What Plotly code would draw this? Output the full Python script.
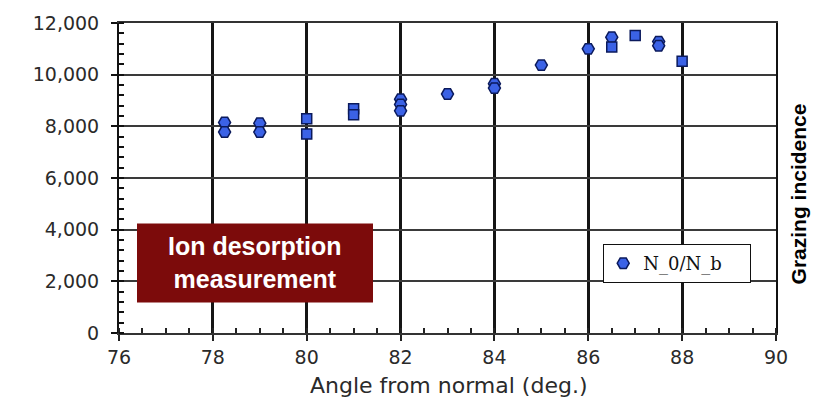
import plotly.graph_objects as go

# Ion desorption ratio N_0/N_b versus angle from normal
angle_round = [78.25, 78.25, 79, 79, 82, 82, 82, 83, 84, 84, 85, 86, 86.5, 87.5, 87.5]
ratio_round = [8150, 7780, 8120, 7780, 9050, 8850, 8600, 9250, 9650, 9480, 10370, 11000, 11450, 11280, 11120]

angle_square = [80, 80, 81, 81, 86.5, 87, 88]
ratio_square = [8290, 7700, 8680, 8450, 11070, 11520, 10520]

x_ticks = [76, 78, 80, 82, 84, 86, 88, 90]
y_ticks = [0, 2000, 4000, 6000, 8000, 10000, 12000]

series_name = "N_0/N_b"
fill_blue = "#3b62e6"
edge_navy = "#0b1a5c"

fig = go.Figure()
fig.add_trace(go.Scatter(
    x=angle_round, y=ratio_round, mode="markers", name=series_name,
    legendgroup="n", showlegend=True,
    marker=dict(symbol="hexagon2", size=12, color=fill_blue,
                line=dict(color=edge_navy, width=1.5)),
))
fig.add_trace(go.Scatter(
    x=angle_square, y=ratio_square, mode="markers", name=series_name,
    legendgroup="n", showlegend=False,
    marker=dict(symbol="square", size=10, color=fill_blue,
                line=dict(color=edge_navy, width=1.5)),
))

tick_font = dict(family="DejaVu Sans", size=19, color="#2a2a2a")

fig.update_xaxes(
    range=[76, 90], tickvals=x_ticks, ticktext=[str(v) for v in x_ticks],
    ticks="outside", ticklen=6, tickwidth=2, tickcolor="#222",
    showgrid=True, gridcolor="#151515", gridwidth=3,
    showline=True, linecolor="#333", linewidth=2, mirror=True,
    zeroline=False, tickfont=tick_font,
    minor=dict(ticks="inside", dtick=0.5, tick0=76, ticklen=5, tickwidth=1.5,
               tickcolor="#222", showgrid=False),
)
fig.update_yaxes(
    range=[0, 12000], tickvals=y_ticks, tickformat=",",
    ticks="outside", ticklen=6, tickwidth=2, tickcolor="#111",
    showgrid=True, gridcolor="#3a3a3a", gridwidth=2,
    showline=True, linecolor="#111", linewidth=2, mirror=True,
    zeroline=False, tickfont=tick_font, ticklabelstandoff=8,
    minor=dict(ticks="inside", dtick=400, tick0=0, ticklen=5, tickwidth=1.5,
               tickcolor="#111", showgrid=False),
)

# dark red caption box
fig.add_shape(type="rect", xref="paper", yref="paper",
              x0=0.0274, x1=0.3866, y0=0.0987, y1=0.3535,
              fillcolor="#7c0b0b", line=dict(width=0), layer="above")
fig.add_annotation(xref="paper", yref="paper", x=0.207, y=0.226,
                   text="<b>Ion desorption<br>measurement</b>", showarrow=False,
                   font=dict(family="Liberation Sans", size=25, color="white"),
                   align="center", xanchor="center", yanchor="middle")

# axis titles
fig.add_annotation(xref="paper", yref="paper", x=0.503, y=-0.168,
                   text="Angle from normal (deg.)", showarrow=False,
                   font=dict(family="DejaVu Sans", size=22, color="#2a2a2a"),
                   xanchor="center", yanchor="middle")
fig.add_annotation(xref="paper", yref="paper", x=1.034, y=0.448,
                   text="<b>Grazing incidence</b>", showarrow=False, textangle=-90,
                   font=dict(family="Liberation Sans", size=21, color="#000"),
                   xanchor="center", yanchor="middle")

fig.update_layout(
    width=820, height=409,
    margin=dict(l=119, r=44, t=19, b=76),
    plot_bgcolor="white", paper_bgcolor="white",
    legend=dict(x=0.737, y=0.287, xanchor="left", yanchor="top",
                orientation="h",
                bgcolor="white", bordercolor="#111", borderwidth=1,
                font=dict(family="DejaVu Serif", size=18, color="#111"),
                itemwidth=30, tracegroupgap=0,
                entrywidth=102, entrywidthmode="pixels"),
)

fig.write_html("out.html")
